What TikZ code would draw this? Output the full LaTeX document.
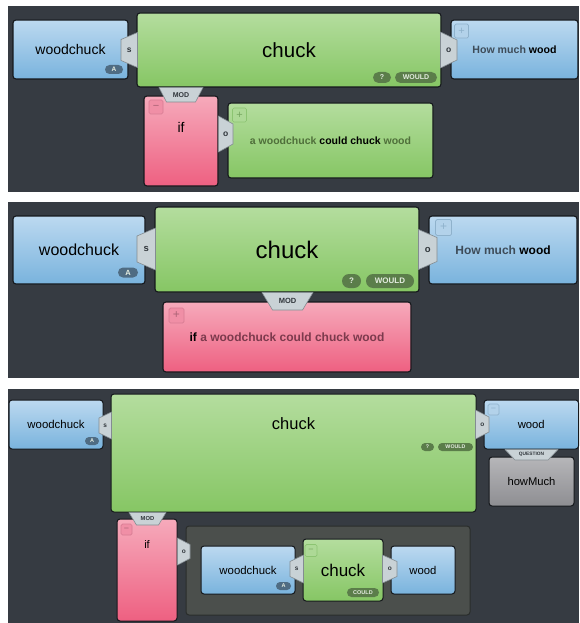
\documentclass[tikz,border=0pt]{standalone}
\usepackage{fontspec}
\setmainfont{Liberation Sans}
\usetikzlibrary{fit}

\definecolor{bg}{HTML}{363B42}
\definecolor{bluetop}{HTML}{BCD9F0}
\definecolor{bluebot}{HTML}{79B3DD}
\definecolor{greentop}{HTML}{B4DD9E}
\definecolor{greenbot}{HTML}{86C664}
\definecolor{pinktop}{HTML}{F6AABB}
\definecolor{pinkbot}{HTML}{EE6081}
\definecolor{graytop}{HTML}{B6B6B9}
\definecolor{graybot}{HTML}{8E8E92}
\definecolor{edge}{HTML}{15181C}
\definecolor{tabfill}{HTML}{C9D2D6}
\definecolor{tabedge}{HTML}{838C91}
\definecolor{tabink}{HTML}{30363B}
\definecolor{pillgreen}{HTML}{5B7D4A}
\definecolor{pillblue}{HTML}{4F6C83}
\definecolor{pillink}{HTML}{E4ECE0}
\definecolor{cont}{HTML}{4B4F4C}
\definecolor{contedge}{HTML}{2A2D2B}
\definecolor{blueink}{HTML}{3E4C59}
\definecolor{greenink}{HTML}{4F6F3A}
\definecolor{pinkink}{HTML}{7C3A4D}
\definecolor{iconblue}{HTML}{8FB2CC}
\definecolor{iconbluefill}{HTML}{B3D2EA}
\definecolor{iconpink}{HTML}{D77C93}
\definecolor{iconpinkfill}{HTML}{F08FA6}
\definecolor{icongreen}{HTML}{8CC472}
\definecolor{icongreenfill}{HTML}{ADD996}

\newcommand\fsz[1]{\fontsize{#1}{#1}\selectfont}

% horizontal tab: attach x, free x, centre y, wide half, narrow half, label, font size, name
\newcommand\htab[8]{%
  \path[tabshape] ({#1},{#3-#4}) -- ({#2},{#3-#5}) -- ({#2},{#3+#5}) -- ({#1},{#3+#4}) -- cycle;
  \node[tablabel, font=\bfseries\fsz{#7}] (#8) at ({(#1+#2)/2},{#3}) {#6};}
% vertical tab: centre x, attach y, free y, wide half, narrow half, label, font size, name
\newcommand\vtab[8]{%
  \path[tabshape] ({#1-#4},{#2}) -- ({#1-#5},{#3}) -- ({#1+#5},{#3}) -- ({#1+#4},{#2}) -- cycle;
  \node[tablabel, font=\bfseries\fsz{#7}] (#8) at ({#1},{(#2+#3)/2}) {#6};}

\begin{document}
\begin{tikzpicture}[x=1pt, y=-1pt,
  box/.style={draw=edge, line width=1.1pt, rounded corners=3pt, inner sep=0pt},
  bluebox/.style={box, top color=bluetop, bottom color=bluebot},
  greenbox/.style={box, top color=greentop, bottom color=greenbot},
  pinkbox/.style={box, top color=pinktop, bottom color=pinkbot},
  graybox/.style={box, top color=graytop, bottom color=graybot},
  lbl/.style={inner sep=0pt, text=black},
  tabshape/.style={fill=tabfill, draw=tabedge, line width=0.6pt, line join=round},
  tablabel/.style={inner sep=0pt, text=tabink},
  pill/.style={inner sep=0pt, text=pillink, font=\bfseries\fsz{#1}},
  gpill/.style={pill=#1, fill=pillgreen},
  bpill/.style={pill=#1, fill=pillblue},
  icon/.style={draw, rounded corners=1.5pt, inner sep=0pt, line width=0.7pt, minimum size=#1},
  blueicon/.style={icon=#1, draw=iconblue, fill=iconbluefill, text=iconblue},
  pinkicon/.style={icon=#1, draw=iconpink, fill=iconpinkfill, text=iconpink!80!black},
  greenicon/.style={icon=#1, draw=icongreen, fill=icongreenfill, text=icongreen!85!black},
]
\useasboundingbox (0,0) rectangle (579,623);
\fill[white] (0,0) rectangle (579,623);
\fill[bg] (8,6) rectangle (579,192);
\fill[bg] (8,202) rectangle (579,378);
\fill[bg] (8,389) rectangle (579,623);

% ---------- first sentence: clause as one block ----------
\node[bluebox, fit={(13,20)(128,79)}] (wc1) {};
\node[lbl, font=\fsz{14}] (wc1t) at (wc1.center) {woodchuck};
\node[greenbox, fit={(137,13)(441,87)}] (ch1) {};
\node[lbl, font=\fsz{20.5}] (ch1t) at (ch1.center) {chuck};
\node[bluebox, fit={(451,20)(578,79)}] (hm1) {};
\node[lbl, font=\bfseries\fsz{10.6}] (hm1t) at (hm1.center) {\textcolor{blueink}{How much} wood};
\node[pinkbox, fit={(144,96)(218,186)}] (if1) {};
\node[lbl, font=\fsz{14}] (if1t) at (181,127) {if};
\node[greenbox, fit={(228,103)(433,178)}] (gr1) {};
\node[lbl, font=\bfseries\fsz{10.5}] (gr1t) at (gr1.center)
  {\textcolor{greenink}{a woodchuck} could chuck \textcolor{greenink}{wood}};
\node[bpill=6.5, minimum width=18pt, minimum height=9pt, rounded corners=4.5pt] (a1) at (114,69.5) {A};
\node[gpill=7, minimum width=18pt, minimum height=11pt, rounded corners=5.5pt] (q1) at (382,77.5) {?};
\node[gpill=7, minimum width=42pt, minimum height=11pt, rounded corners=5.5pt] (w1) at (416,77.5) {WOULD};
\node[blueicon=14pt, font=\fsz{11}] (p1) at (461.5,31) {+};
\node[pinkicon=14pt, font=\fsz{11}] (m1) at (156,107) {−};
\node[greenicon=14pt, font=\fsz{11}] (p1b) at (239.5,115) {+};
\htab{137.5}{121}{50}{17.5}{10.5}{s}{8.5}{s1}
\htab{440.5}{457}{50}{18}{10}{o}{8.5}{o1}
\vtab{181}{87.5}{102}{22}{14.5}{MOD}{7}{mod1}
\htab{218.5}{233}{134}{18}{10}{o}{8.5}{o1b}

% ---------- second sentence: if-clause collapsed ----------
\node[bluebox, fit={(13,216)(145,284)}] (wc2) {};
\node[lbl, font=\fsz{16}] (wc2t) at (wc2.center) {woodchuck};
\node[greenbox, fit={(155,207)(419,292)}] (ch2) {};
\node[lbl, font=\fsz{24}] (ch2t) at (ch2.center) {chuck};
\node[bluebox, fit={(429,216)(577,284)}] (hm2) {};
\node[lbl, font=\bfseries\fsz{12}] (hm2t) at (hm2.center) {\textcolor{blueink}{How much} wood};
\node[pinkbox, fit={(163,302)(411,372)}] (if2) {};
\node[lbl, font=\bfseries\fsz{12}] (if2t) at (if2.center) {if \textcolor{pinkink}{a woodchuck could chuck wood}};
\node[bpill=7.5, minimum width=20pt, minimum height=10pt, rounded corners=5pt] (a2) at (128,272.5) {A};
\node[gpill=8, minimum width=19pt, minimum height=14pt, rounded corners=7pt] (q2) at (351.5,281) {?};
\node[gpill=8, minimum width=48pt, minimum height=14pt, rounded corners=7pt] (w2) at (390,281) {WOULD};
\node[blueicon=16pt, font=\fsz{12}] (p2) at (443.5,227.5) {+};
\node[pinkicon=15pt, font=\fsz{12}] (p2b) at (176.5,315.5) {+};
\htab{155.5}{137}{249}{21}{13}{s}{9.5}{s2}
\htab{418.5}{437}{249.5}{20}{12}{o}{9.5}{o2}
\vtab{287.5}{292.5}{310}{25.5}{15}{MOD}{7.5}{mod2}

% ---------- third sentence: if-clause expanded ----------
\node[bluebox, line width=1pt, fit={(9,400)(103,449)}] (wc3) {};
\node[lbl, font=\fsz{11.4}] (wc3t) at (wc3.center) {woodchuck};
\node[greenbox, line width=1pt, fit={(111,394)(476,512)}] (ch3) {};
\node[lbl, font=\fsz{16.5}] (ch3t) at (293.5,424) {chuck};
\node[bluebox, line width=1pt, fit={(484,400)(578.5,449)}] (wd3) {};
\node[lbl, font=\fsz{11.3}] (wd3t) at (wd3.center) {wood};
\node[graybox, line width=1pt, fit={(489,457)(574,506)}] (hw3) {};
\node[lbl, font=\fsz{11.2}] (hw3t) at (hw3.center) {howMuch};
\node[pinkbox, line width=1pt, fit={(117,519)(177,621)}] (if3) {};
\node[lbl, font=\fsz{11}] (if3t) at (147,545) {if};
\node[fill=cont, draw=contedge, line width=1pt, rounded corners=3pt, fit={(186,526)(470,615)}, inner sep=0pt] (cl3) {};
\node[bluebox, line width=1pt, fit={(201,546)(295,594)}] (wc3b) {};
\node[lbl, font=\fsz{11.4}] (wc3bt) at (wc3b.center) {woodchuck};
\node[greenbox, line width=1pt, fit={(303,539)(383,601)}] (ch3b) {};
\node[lbl, font=\fsz{17}] (ch3bt) at (ch3b.center) {chuck};
\node[bluebox, line width=1pt, fit={(391,546)(455,594)}] (wd3b) {};
\node[lbl, font=\fsz{11.3}] (wd3bt) at (wd3b.center) {wood};
\node[bpill=5.5, minimum width=14pt, minimum height=8pt, rounded corners=4pt] (a3) at (92,441) {A};
\node[gpill=5.3, minimum width=13pt, minimum height=8pt, rounded corners=4pt] (q3) at (427.5,447) {?};
\node[gpill=5.3, minimum width=35pt, minimum height=8pt, rounded corners=4pt] (w3) at (455.5,447) {WOULD};
\node[bpill=5.5, minimum width=15pt, minimum height=8pt, rounded corners=4pt] (a3b) at (283.5,586) {A};
\node[gpill=5.5, minimum width=32pt, minimum height=9pt, rounded corners=4.5pt] (c3) at (363,592.5) {COULD};
\node[blueicon=11pt, font=\fsz{9}] (m3) at (493.5,409.5) {−};
\node[pinkicon=11pt, font=\fsz{9}] (m3b) at (126.5,529.5) {−};
\node[greenicon=12pt, font=\fsz{9}] (m3c) at (311,550.5) {−};
\htab{111.5}{99}{425.5}{13.5}{7.5}{s}{6.5}{s3}
\htab{475.5}{489}{424.5}{14.5}{7.5}{o}{6.5}{o3}
\vtab{531.5}{449.5}{460}{26.5}{16.5}{QUESTION}{4.8}{qu3}
\vtab{147.5}{512.5}{525}{18.5}{11}{MOD}{5.8}{mod3}
\htab{177.5}{190}{551.5}{13.5}{7}{o}{6.5}{o3b}
\htab{303.5}{290}{569}{14}{7.5}{s}{6.5}{s3b}
\htab{382.5}{397}{569}{14}{7.5}{o}{6.5}{o3c}
\end{tikzpicture}
\end{document}
